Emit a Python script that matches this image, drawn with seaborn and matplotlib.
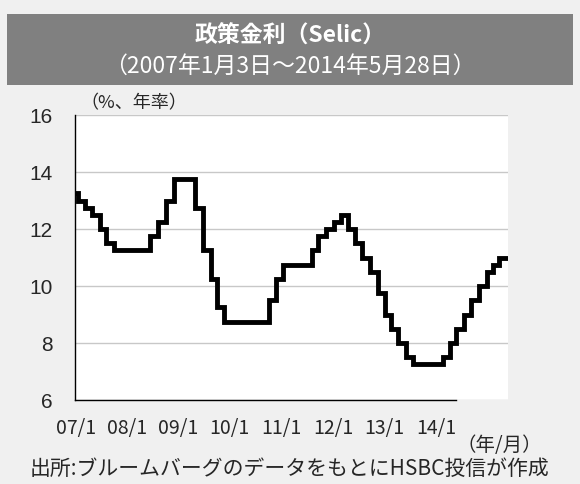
import numpy as np
import pandas as pd
import matplotlib
matplotlib.use("Agg")
import matplotlib.pyplot as plt
from matplotlib.patches import Rectangle
import seaborn as sns

# Selic target rate: date of change and new rate (% p.a.)
change_dates = ["2007-01-03", "2007-01-24", "2007-03-07", "2007-04-18", "2007-06-06",
                "2007-07-18", "2007-09-05", "2008-04-16", "2008-06-04", "2008-07-23",
                "2008-09-10", "2009-01-21", "2009-03-11", "2009-04-29", "2009-06-10",
                "2009-07-22", "2010-04-28", "2010-06-09", "2010-07-21", "2011-01-19",
                "2011-03-02", "2011-04-20", "2011-06-08", "2011-07-20", "2011-08-31",
                "2011-10-19", "2011-11-30", "2012-01-18", "2012-03-07", "2012-04-18",
                "2012-05-30", "2012-07-11", "2012-08-29", "2012-10-10", "2013-04-17",
                "2013-05-29", "2013-07-10", "2013-08-28", "2013-10-09", "2013-11-27",
                "2014-01-15", "2014-02-26", "2014-04-02"]
change_rates = [13.25, 13.00, 12.75, 12.50, 12.00, 11.50, 11.25, 11.75, 12.25, 13.00,
                13.75, 12.75, 11.25, 10.25, 9.25, 8.75, 9.50, 10.25, 10.75, 11.25,
                11.75, 12.00, 12.25, 12.50, 12.00, 11.50, 11.00, 10.50, 9.75, 9.00,
                8.50, 8.00, 7.50, 7.25, 7.50, 8.00, 8.50, 9.00, 9.50, 10.00,
                10.50, 10.75, 11.00]
start_date = "2007-01-03"
end_date = "2014-05-28"

tick_labels = ["07/1", "08/1", "09/1", "10/1", "11/1", "12/1", "13/1", "14/1"]
tick_weeks = [1, 46, 92, 138, 184, 230, 276, 322]
y_ticks = [6, 8, 10, 12, 14, 16]

# weekly (Wednesday) series
weeks = pd.date_range(start_date, end_date, freq="7D")
rate_s = pd.Series(change_rates, index=pd.to_datetime(change_dates))
weekly = rate_s.reindex(weeks, method="ffill")
df = pd.DataFrame({"week": np.arange(len(weeks)), "rate": weekly.values})

sns.set_style("white")
jp = ["Noto Sans CJK JP", "DejaVu Sans"]
plt.rcParams["font.family"] = jp

fig = plt.figure(figsize=(5.8, 4.84), dpi=100, facecolor="#f0f0f0")
ax = fig.add_axes([75 / 580, 1 - 400 / 484, 433 / 580, 285 / 484])
ax.set_facecolor("white")

sns.lineplot(data=df, x="week", y="rate", ax=ax, color="black", lw=3.5,
             drawstyle="steps-post", solid_joinstyle="miter")

ax.set_xlim(0, len(weeks) - 1)
ax.set_ylim(6, 16)
ax.set_yticks(y_ticks)
ax.set_yticklabels([str(v) for v in y_ticks], fontsize=15, family="Liberation Sans")
ax.set_xticks(tick_weeks)
ax.set_xticklabels(tick_labels, fontsize=14)
ax.tick_params(axis="y", direction="in", length=4, pad=16, color="black")
ax.tick_params(axis="x", direction="in", length=4, pad=13, color="black")
ax.grid(axis="y", color="#c8c8c8", lw=1)
ax.set_xlabel("")
ax.set_ylabel("")
for s in ["top", "right"]:
    ax.spines[s].set_visible(False)
ax.spines["left"].set_color("black")
ax.spines["bottom"].set_color("black")
ax.spines["bottom"].set_bounds(0, 340)
ax.spines["left"].set_linewidth(1)
ax.spines["bottom"].set_linewidth(1)

# title box
fig.patches.append(Rectangle((7 / 580, 1 - 85 / 484), 566 / 580, 71 / 484,
                             transform=fig.transFigure, facecolor="#808080",
                             edgecolor="none", zorder=0))
fig.text(0.5, 1 - 36 / 484, "政策金利（Selic）", ha="center", va="center",
         color="white", fontsize=16.5, fontweight="bold")
fig.text(0.5, 1 - 66 / 484, "（2007年1月3日～2014年5月28日）", ha="center",
         va="center", color="white", fontsize=16.5)

fig.text(80 / 580, 1 - 103 / 484, "（%、年率）", ha="left", va="center", fontsize=13)
fig.text(542 / 580, 1 - 446 / 484, "（年/月）", ha="right", va="center", fontsize=14)
fig.text(0.5, 1 - 469 / 484, "出所:ブルームバーグのデータをもとにHSBC投信が作成",
         ha="center", va="center", fontsize=15)

fig.savefig("out.png", dpi=100, facecolor=fig.get_facecolor())
